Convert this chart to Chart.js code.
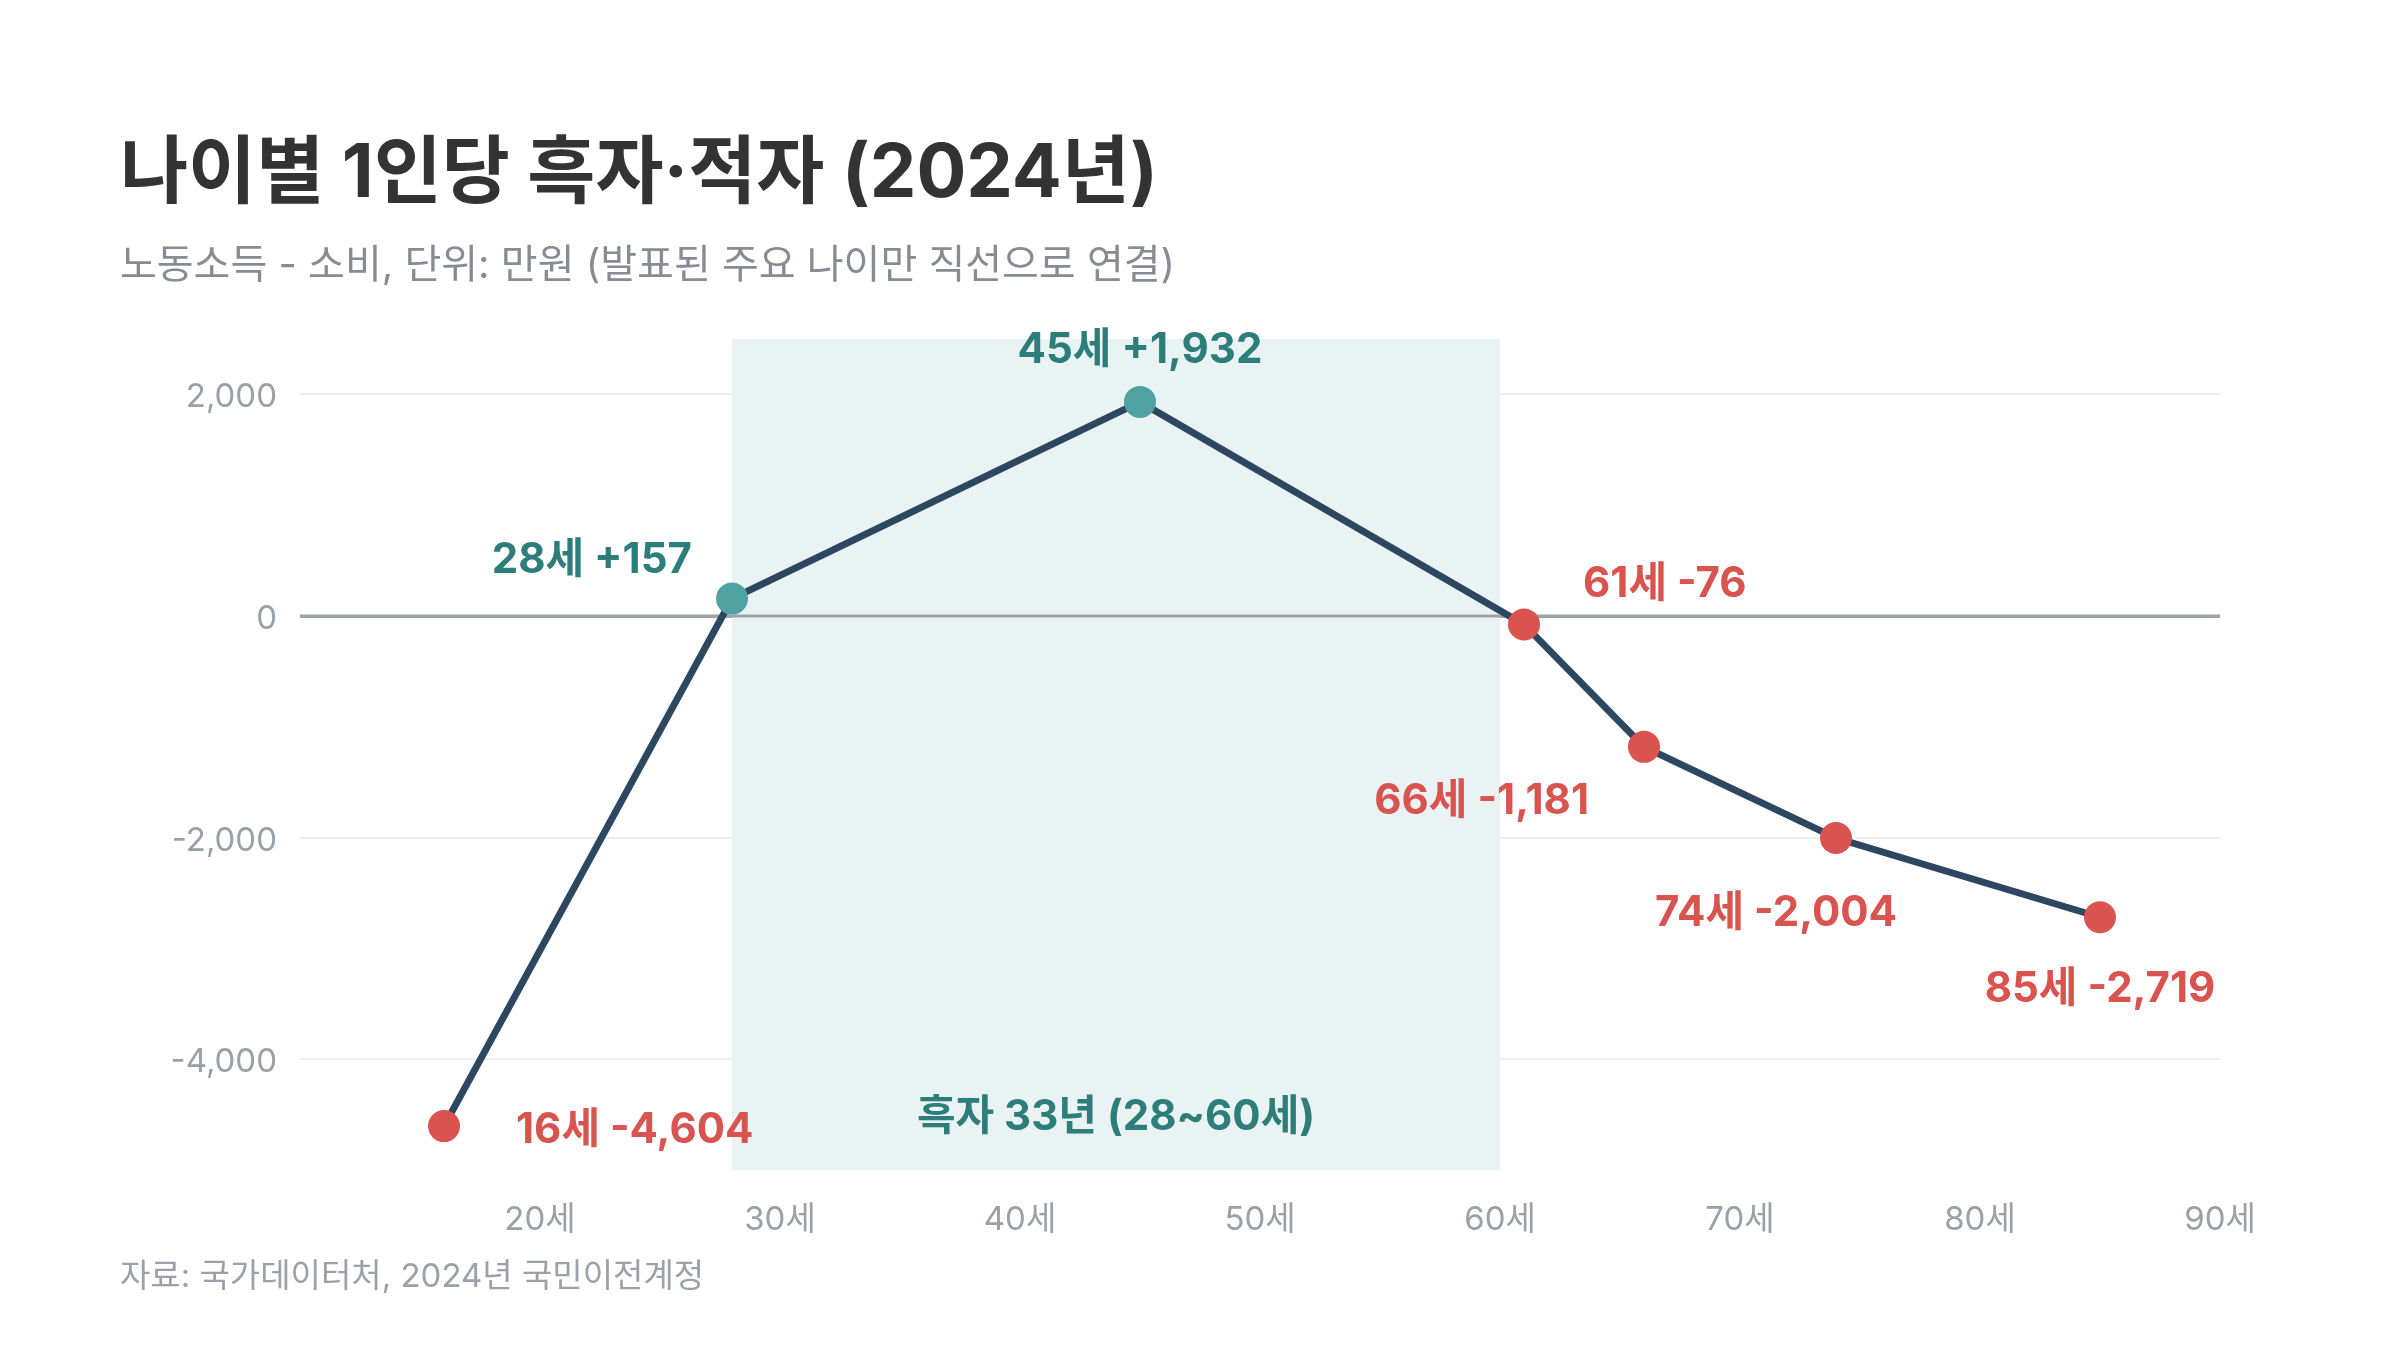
<!DOCTYPE html>
<html lang="ko">
<head>
<meta charset="utf-8">
<title>나이별 1인당 흑자·적자 (2024년)</title>
<script src="https://cdn.jsdelivr.net/npm/chart.js@4.4.1/dist/chart.umd.min.js"></script>
<style>
  html, body { margin: 0; padding: 0; background: #ffffff; }
  body { width: 2400px; height: 1350px; position: relative; overflow: hidden;
         font-family: Inter, "Noto Sans CJK KR", sans-serif; }
  #chart { position: absolute; left: 0; top: 0; }
  .txt { position: absolute; left: 120px; white-space: nowrap; margin: 0; }
  #title { top: 133px; font-size: 74px; line-height: 74px; font-weight: 700; color: #333333; }
  #subtitle { top: 244px; font-size: 40px; line-height: 40px; font-weight: 400; color: #878c94; }
  #footer { top: 1259px; font-size: 33px; line-height: 33px; font-weight: 400; color: #9ca1a8; }
</style>
</head>
<body>
<canvas id="chart" width="2400" height="1350"></canvas>
<h1 class="txt" id="title">나이별 1인당 흑자·적자 (2024년)</h1>
<div class="txt" id="subtitle">노동소득 - 소비, 단위: 만원 (발표된 주요 나이만 직선으로 연결)</div>
<div class="txt" id="footer">자료: 국가데이터처, 2024년 국민이전계정</div>
<script>
// ---- data ----
const ages = [16, 28, 45, 61, 66, 74, 85];
const values = [-4604, 157, 1932, -76, -1181, -2004, -2719];
const xTicks = [20, 30, 40, 50, 60, 70, 80, 90];
const yTicks = [-4000, -2000, 0, 2000];
const surplusRange = [28, 60];
const surplusLabel = '흑자 33년 (28~60세)';

// ---- label placement (style only) ----
const labelPlacement = [
  { dx: 72,  dy: 4,   align: 'left'   },
  { dx: -40, dy: -38, align: 'right'  },
  { dx: 0,   dy: -52, align: 'center' },
  { dx: 59,  dy: -40, align: 'left'   },
  { dx: -55, dy: 55,  align: 'right'  },
  { dx: -60, dy: 75,  align: 'center' },
  { dx: 0,   dy: 72,  align: 'center' }
];

const FONT = "Inter, 'Noto Sans CJK KR', sans-serif";
const TEAL_POINT = '#4fa3a3';
const TEAL_TEXT = '#2d7d7a';
const RED = '#d9534f';
const LINE = '#2d4760';
const TICK = '#9aa0a8';

function fmt(v) { return v.toLocaleString('en-US'); }
function pointLabel(age, v) { return age + '세 ' + (v > 0 ? '+' : '') + fmt(v); }

const shadePlugin = {
  id: 'shade',
  beforeDatasetsDraw(chart) {
    const { ctx, chartArea, scales: { x, y } } = chart;
    const x0 = x.getPixelForValue(surplusRange[0]);
    const x1 = x.getPixelForValue(surplusRange[1]);
    ctx.save();
    ctx.fillStyle = '#e9f3f3';
    ctx.fillRect(x0, chartArea.top, x1 - x0, chartArea.bottom - chartArea.top);
    const y0 = y.getPixelForValue(0);
    ctx.strokeStyle = '#9ea3aa';
    ctx.lineWidth = 3;
    ctx.beginPath();
    ctx.moveTo(chartArea.left, y0);
    ctx.lineTo(chartArea.right, y0);
    ctx.stroke();
    ctx.fillStyle = TEAL_TEXT;
    ctx.font = '700 42px ' + FONT;
    ctx.textAlign = 'center';
    ctx.textBaseline = 'middle';
    ctx.fillText(surplusLabel, (x0 + x1) / 2, chartArea.bottom - 53);
    ctx.restore();
  }
};

const labelPlugin = {
  id: 'pointLabels',
  afterDatasetsDraw(chart) {
    const { ctx } = chart;
    const meta = chart.getDatasetMeta(0);
    ctx.save();
    ctx.font = '700 42px ' + FONT;
    ctx.textBaseline = 'middle';
    meta.data.forEach((pt, i) => {
      const p = labelPlacement[i];
      ctx.fillStyle = values[i] >= 0 ? TEAL_TEXT : RED;
      ctx.textAlign = p.align;
      ctx.fillText(pointLabel(ages[i], values[i]), pt.x + p.dx, pt.y + p.dy);
    });
    ctx.restore();
  }
};

function draw() {
  Chart.defaults.font.family = FONT;
  new Chart(document.getElementById('chart'), {
    type: 'line',
    data: {
      datasets: [{
        data: ages.map((a, i) => ({ x: a, y: values[i] })),
        borderColor: LINE,
        borderWidth: 7,
        tension: 0,
        pointRadius: 16,
        pointHoverRadius: 16,
        pointBorderWidth: 0,
        pointBackgroundColor: values.map(v => v >= 0 ? TEAL_POINT : RED),
        fill: false
      }]
    },
    options: {
      responsive: false,
      animation: false,
      devicePixelRatio: 1,
      layout: { padding: { left: 0, top: 339, right: 180, bottom: 90 } },
      plugins: { legend: { display: false }, tooltip: { enabled: false } },
      scales: {
        x: {
          type: 'linear', min: 10, max: 90,
          afterBuildTicks: s => { s.ticks = xTicks.map(v => ({ value: v })); },
          afterFit: s => { s.height = 90; },
          grid: { display: false },
          border: { display: false },
          ticks: { callback: v => v + '세', color: TICK, font: { size: 33 }, padding: 22, maxRotation: 0, autoSkip: false }
        },
        y: {
          min: -5000, max: 2500,
          afterBuildTicks: s => { s.ticks = yTicks.map(v => ({ value: v })); },
          afterFit: s => { s.width = 300; },
          grid: {
            color: c => (c.tick && c.tick.value === 0) ? '#9ea3aa' : '#efefef',
            lineWidth: c => (c.tick && c.tick.value === 0) ? 3 : 2,
            drawTicks: false
          },
          border: { display: false },
          ticks: { callback: v => fmt(v), color: TICK, font: { size: 33 }, padding: 23, labelOffset: 3 }
        }
      }
    },
    plugins: [shadePlugin, labelPlugin]
  });
}

const fontLoads = [
  document.fonts.load("700 42px Inter"),
  document.fonts.load("400 33px Inter"),
  document.fonts.load("700 42px 'Noto Sans CJK KR'", "세"),
  document.fonts.load("400 33px 'Noto Sans CJK KR'", "세")
];
Promise.all(fontLoads).then(draw, draw);
</script>
</body>
</html>
